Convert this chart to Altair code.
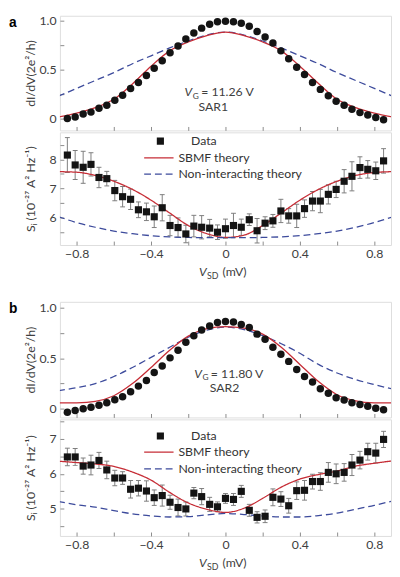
import altair as alt
import pandas as pd

# ---------------- data ----------------
V_DATA = [-0.850, -0.808, -0.765, -0.723, -0.680, -0.638, -0.595, -0.553, -0.510, -0.468,
          -0.425, -0.383, -0.340, -0.298, -0.255, -0.213, -0.170, -0.128, -0.085, -0.043,
          0.000, 0.043, 0.085, 0.128, 0.170, 0.213, 0.255, 0.298, 0.340, 0.383,
          0.425, 0.468, 0.510, 0.553, 0.595, 0.638, 0.680, 0.723, 0.765, 0.808, 0.850]
V_THEORY = [-0.9, -0.8, -0.7, -0.6, -0.5, -0.4, -0.3, -0.2, -0.1, 0.0,
            0.1, 0.2, 0.3, 0.4, 0.5, 0.6, 0.7, 0.8, 0.9]

# panel a (SAR1, V_G = 11.26 V)
A_G = [0.006, 0.02, 0.05, 0.07, 0.11, 0.14, 0.19, 0.24, 0.31, 0.37,
       0.44, 0.515, 0.59, 0.67, 0.74, 0.81, 0.87, 0.92, 0.96, 0.985,
       0.99, 0.985, 0.97, 0.94, 0.885, 0.83, 0.77, 0.69, 0.61, 0.525,
       0.45, 0.37, 0.30, 0.235, 0.18, 0.14, 0.10, 0.065, 0.04, 0.015, -0.007]
A_G_SBMF = [0.02, 0.06, 0.115, 0.20, 0.355, 0.535, 0.69, 0.78, 0.845, 0.88,
            0.845, 0.78, 0.69, 0.535, 0.36, 0.20, 0.115, 0.06, 0.02]
A_G_NI = [0.23, 0.31, 0.39, 0.47, 0.56, 0.64, 0.72, 0.79, 0.85, 0.88,
          0.85, 0.79, 0.72, 0.64, 0.56, 0.47, 0.39, 0.31, 0.23]
A_S = [8.15, 7.81, 7.73, 7.83, 7.38, 7.34, 6.93, 6.72, 6.63, 6.27,
       6.20, 6.03, 6.34, 5.73, 5.66, 5.44, 5.71, 5.67, 5.64, 5.50,
       5.62, 5.73, 5.67, 5.93, 5.55, 5.81, 5.89, 6.23, 6.06, 6.06,
       6.31, 6.57, 6.57, 6.80, 6.97, 7.25, 7.42, 7.72, 7.66, 7.61, 7.95]
A_S_ERR = [0.60, 0.50, 0.55, 0.40, 0.35, 0.25, 0.35, 0.35, 0.35, 0.27,
           0.30, 0.37, 0.45, 0.35, 0.33, 0.30, 0.37, 0.40, 0.30, 0.25,
           0.33, 0.42, 0.28, 0.20, 0.42, 0.22, 0.22, 0.40, 0.25, 0.40,
           0.30, 0.33, 0.40, 0.33, 0.28, 0.40, 0.50, 0.37, 0.30, 0.30, 0.42]
A_S_SBMF = [7.58, 7.56, 7.45, 7.25, 6.97, 6.60, 6.16, 5.73, 5.45, 5.32,
            5.40, 5.73, 6.16, 6.60, 6.97, 7.25, 7.45, 7.55, 7.58]
A_S_NI = [6.04, 5.83, 5.67, 5.54, 5.45, 5.38, 5.34, 5.32, 5.31, 5.31,
          5.31, 5.32, 5.34, 5.38, 5.45, 5.54, 5.67, 5.83, 6.03]

# panel b (SAR2, V_G = 11.80 V)
B_G = [-0.033, -0.016, 0.0, 0.016, 0.035, 0.06, 0.09, 0.12, 0.17, 0.225,
       0.28, 0.36, 0.425, 0.505, 0.58, 0.66, 0.725, 0.78, 0.82, 0.855,
       0.865, 0.86, 0.835, 0.805, 0.74, 0.69, 0.61, 0.54, 0.47, 0.39,
       0.32, 0.265, 0.20, 0.155, 0.11, 0.087, 0.06, 0.042, 0.025, 0.006, -0.01]
B_G_SBMF = [0.058, 0.06, 0.075, 0.13, 0.25, 0.41, 0.58, 0.72, 0.795, 0.815,
            0.80, 0.74, 0.61, 0.44, 0.27, 0.14, 0.08, 0.06, 0.058]
B_G_NI = [0.18, 0.21, 0.25, 0.32, 0.41, 0.51, 0.61, 0.71, 0.78, 0.81,
          0.785, 0.725, 0.645, 0.55, 0.44, 0.355, 0.29, 0.24, 0.195]
B_S = [6.48, 6.48, 6.22, 6.25, 6.38, 6.11, 5.88, 5.88, 5.56, 5.59,
       5.51, 5.32, 5.38, 5.19, 5.04, 5.00, 5.45, 5.35, 5.13, 5.06,
       5.30, 5.27, 5.50, 4.96, 4.76, 4.79, 5.33, 5.28, 5.09, 5.52,
       5.53, 5.78, 5.78, 6.04, 6.00, 6.04, 6.25, 6.39, 6.63, 6.59, 6.98]
B_S_ERR = [0.25, 0.24, 0.23, 0.28, 0.23, 0.25, 0.22, 0.18, 0.25, 0.22,
           0.29, 0.22, 0.30, 0.20, 0.24, 0.20, 0.16, 0.23, 0.20, 0.14,
           0.14, 0.17, 0.17, 0.17, 0.16, 0.18, 0.24, 0.21, 0.21, 0.25,
           0.28, 0.21, 0.25, 0.28, 0.28, 0.25, 0.30, 0.25, 0.24, 0.28, 0.23]
B_S_SBMF = [6.36, 6.32, 6.28, 6.21, 6.05, 5.82, 5.47, 5.17, 4.99, 4.90,
            5.02, 5.30, 5.62, 5.85, 5.98, 6.08, 6.22, 6.30, 6.37]
B_S_NI = [5.21, 5.12, 5.05, 4.95, 4.86, 4.80, 4.77, 4.78, 4.83, 4.87,
          4.84, 4.80, 4.77, 4.77, 4.81, 4.88, 4.99, 5.10, 5.23]

SERIES = ["Data", "SBMF theory", "Non-interacting theory"]
X_TICKS = [-0.8, -0.6, -0.4, -0.2, 0.0, 0.2, 0.4, 0.6, 0.8]
X_DOMAIN = [-0.89, 0.89]

# ---------------- style ----------------
FONT = "Lato"
FRAME = "#8a8a8a"
TXT = "#404040"
RED = "#c62d36"
BLUE = "#3d4b9c"
DOT = "#141414"
ERR = "#7d7d7d"
W = 338
FS = 12.5


def x_scale():
    return alt.Scale(domain=X_DOMAIN, nice=False, zero=False)


def x_axis(labels):
    return alt.Axis(values=X_TICKS, domain=False, grid=False, tickSize=4, offset=-4,
                    tickColor=FRAME, labels=labels,
                    labelExpr="abs(datum.value) < 0.001 ? '0' : (abs(round(datum.value*10)) % 4 == 0 ? "
                              "replace(format(datum.value, '.1f'), '-', '\u2212') : '')",
                    labelPadding=3, labelFontSize=FS, labelColor=TXT, labelFont=FONT,
                    title=None)


def y_axis(values, expr, title):
    return alt.Axis(values=values, labelExpr=expr, domain=False, grid=False, tickSize=4,
                    offset=-4, tickColor=FRAME, labelPadding=4, labelFontSize=FS,
                    labelColor=TXT, labelFont=FONT, title=title, titleX=-27,
                    titleFontSize=FS, titleFontWeight="normal", titleColor=TXT,
                    titleFont=FONT)


def top_panel(g, sbmf, ni, ydom, h, letter, vg, sar, vg_x, vg_y, sar_x, sar_y):
    xs, xa = x_scale(), x_axis(False)
    ys = alt.Scale(domain=ydom, nice=False, zero=False)
    ya = y_axis([0, 0.25, 0.5, 0.75, 1.0],
                "datum.value == 0 ? '0' : (datum.value == 0.5 ? '0.5' : (datum.value == 1 ? '1.0' : ''))",
                "dI/dV(2e\u00b2/h)")

    def enc(ch):
        return ch.encode(x=alt.X("V:Q", scale=xs, axis=xa), y=alt.Y("y:Q", scale=ys, axis=ya))

    ni_df = pd.DataFrame({"V": V_THEORY, "y": ni})
    sb_df = pd.DataFrame({"V": V_THEORY, "y": sbmf})
    dot_df = pd.DataFrame({"V": V_DATA, "y": g})
    ni_l = enc(alt.Chart(ni_df).mark_line(clip=True, interpolate="monotone", color=BLUE,
                                          strokeWidth=1.3, strokeDash=[7, 4]))
    sb_l = enc(alt.Chart(sb_df).mark_line(clip=True, interpolate="monotone", color=RED,
                                          strokeWidth=1.3))
    dots = enc(alt.Chart(dot_df).mark_circle(size=58, color=DOT, opacity=1))

    t1 = pd.DataFrame({"V": [vg_x], "y": [vg_y], "t": ["V"]})
    t2 = pd.DataFrame({"V": [vg_x], "y": [vg_y], "t": ["G"]})
    t3 = pd.DataFrame({"V": [vg_x], "y": [vg_y], "t": [vg]})
    t4 = pd.DataFrame({"V": [sar_x], "y": [sar_y], "t": [sar]})
    common = dict(font=FONT, color=TXT, baseline="alphabetic")
    l1 = enc(alt.Chart(t1).mark_text(align="left", fontSize=12.5, fontStyle="italic", **common)).encode(text="t:N")
    l2 = enc(alt.Chart(t2).mark_text(align="left", fontSize=8.5, dx=8.5, dy=3, **common)).encode(text="t:N")
    l3 = enc(alt.Chart(t3).mark_text(align="left", fontSize=12.5, dx=17, **common)).encode(text="t:N")
    l4 = enc(alt.Chart(t4).mark_text(align="center", fontSize=12.5, **common)).encode(text="t:N")

    let_df = pd.DataFrame({"t": [letter]})
    let = alt.Chart(let_df).mark_text(align="left", baseline="top", fontSize=14, fontWeight="bold",
                                     font="Liberation Sans", color="#000").encode(
        text="t:N", x=alt.value(-52), y=alt.value(0))

    return alt.layer(ni_l, sb_l, dots, l1, l2, l3, l4, let).properties(width=W, height=h)


def bottom_panel(s, err, sbmf, ni, ydom, yticks, h, leg_y0, leg_y1, leg_row):
    xs, xa = x_scale(), x_axis(True)
    ys = alt.Scale(domain=ydom, nice=False, zero=False)
    ya = y_axis(yticks, "datum.value % 1 == 0 ? format(datum.value, 'd') : ''",
                "S\u1d62 (10\u207b\u00b2\u2077 A\u00b2 Hz\u207b\u00b9)")

    def enc(ch, field="y"):
        return ch.encode(x=alt.X("V:Q", scale=xs, axis=xa), y=alt.Y(field + ":Q", scale=ys, axis=ya))

    lo = [a - b for a, b in zip(s, err)]
    hi = [a + b for a, b in zip(s, err)]
    pts = pd.DataFrame({"V": V_DATA, "y": s, "lo": lo, "hi": hi, "series": "Data"})
    th = pd.DataFrame({"V": V_THEORY * 2, "y": sbmf + ni,
                       "series": ["SBMF theory"] * len(V_THEORY) + ["Non-interacting theory"] * len(V_THEORY)})

    bars = enc(alt.Chart(pts).mark_rule(color=ERR, strokeWidth=1), "lo").encode(y2="hi:Q")
    cap_lo = enc(alt.Chart(pts).mark_tick(orient="horizontal", size=5, thickness=1, color=ERR, opacity=1), "lo")
    cap_hi = enc(alt.Chart(pts).mark_tick(orient="horizontal", size=5, thickness=1, color=ERR, opacity=1), "hi")

    line_leg = dict(orient="none", legendX=85, legendY=leg_y1, direction="vertical", title=None,
                    symbolType="stroke", symbolSize=900, symbolStrokeWidth=1.3, labelOffset=4,
                    clipHeight=12, labelFontSize=FS, labelFont=FONT, labelColor="#333",
                    padding=0, rowPadding=leg_row)
    lines = enc(alt.Chart(th).mark_line(clip=True, interpolate="monotone", strokeWidth=1.3)).encode(
        stroke=alt.Stroke("series:N", scale=alt.Scale(domain=SERIES[1:], range=[RED, BLUE]),
                          legend=alt.Legend(**line_leg)),
        strokeDash=alt.StrokeDash("series:N", scale=alt.Scale(domain=SERIES[1:], range=[[1, 0], [7, 4]]),
                                  legend=alt.Legend(**line_leg)),
    )
    squares = enc(alt.Chart(pts).mark_square(size=53, filled=True, opacity=1)).encode(
        fill=alt.Fill("series:N", scale=alt.Scale(domain=SERIES[:1], range=[DOT]),
                      legend=alt.Legend(orient="none", legendX=96.3, legendY=leg_y0, direction="vertical",
                                        title=None, symbolType="square", symbolSize=53, clipHeight=12,
                                        symbolStrokeWidth=0, labelOffset=25, labelFontSize=FS,
                                        labelFont=FONT, labelColor="#333", padding=0)),
    )

    # x-axis title V_SD (mV)
    xt = [("V", dict(fontStyle="italic", fontSize=12.5), 0, 0),
          ("SD", dict(fontSize=9), 8, 3),
          ("(mV)", dict(fontSize=12.5), 24, 0)]
    titles = []
    for txt, style, dx, dy in xt:
        df = pd.DataFrame({"V": [-0.142], "t": [txt]})
        titles.append(alt.Chart(df).mark_text(align="left", baseline="alphabetic", font=FONT, color=TXT,
                                             dx=dx, dy=dy, **style).encode(
            x=alt.X("V:Q", scale=xs, axis=xa), y=alt.value(h + 32), text="t:N"))

    return alt.layer(bars, cap_lo, cap_hi, lines, squares, *titles).properties(width=W, height=h)


RES = dict(fill="independent", stroke="independent", strokeDash="independent")

a_top = top_panel(A_G, A_G_SBMF, A_G_NI, [-0.115, 1.045], 117, "a", "= 11.26 V", "SAR1",
                  -0.22, 0.235, -0.065, 0.085)
a_bot = bottom_panel(A_S, A_S_ERR, A_S_SBMF, A_S_NI, [5.06, 8.93], [5.5, 6, 6.5, 7, 7.5, 8, 8.5],
                     115, 3, 20, 3.7)
b_top = top_panel(B_G, B_G_SBMF, B_G_NI, [-0.085, 1.06], 118, "b", "= 11.80 V", "SAR2",
                  -0.168, 0.31, -0.005, 0.165)
b_bot = bottom_panel(B_S, B_S_ERR, B_S_SBMF, B_S_NI, [4.23, 7.55], [4.5, 5, 5.5, 6, 6.5, 7, 7.5],
                     119, 11, 27.5, 4)

grp_a = alt.vconcat(a_top, a_bot, spacing=0).resolve_scale(**RES).resolve_legend(**RES)
grp_b = alt.vconcat(b_top, b_bot, spacing=0).resolve_scale(**RES).resolve_legend(**RES)

chart = (
    alt.vconcat(grp_a, grp_b, spacing=19)
    .resolve_scale(**RES)
    .resolve_legend(**RES)
    .properties(padding=0)
    .configure_view(stroke=FRAME, strokeWidth=1)
    .configure(font=FONT)
)

chart.save("out.html", embed_options={"renderer": "svg", "actions": False})
